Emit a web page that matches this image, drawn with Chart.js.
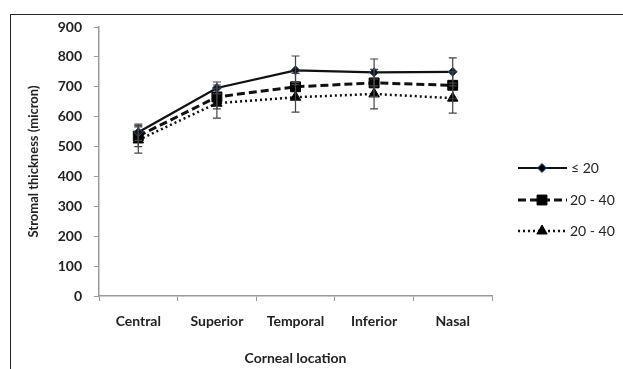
<!DOCTYPE html>
<html>
<head>
<meta charset="utf-8">
<script src="https://cdn.jsdelivr.net/npm/chart.js@4/dist/chart.umd.min.js"></script>
<style>
  body { margin: 0; background: #fff; }
  #wrap { position: relative; width: 623px; height: 369px; }
  #frame { position: absolute; left: 10px; top: 14px; right: 0; bottom: 0;
           border-left: 1.5px solid #222; border-top: 1.5px solid #222; }
  canvas { position: absolute; left: 0; top: 0; }
</style>
</head>
<body>
<div id="wrap">
  <div id="frame"></div>
  <canvas id="chart" width="623" height="369"></canvas>
</div>
<script>
const locations = ["Central", "Superior", "Temporal", "Inferior", "Nasal"];
const seriesNames = ["\u2264 20", "20 - 40", "20 - 40"];
const under20 = [548, 696, 755, 748, 750];
const from20to40 = [535, 666, 700, 713, 705];
const over40 = [522, 645, 665, 676, 662];
const under20Err = [27, 20, 48, 45, 47];
const from20to40Err = [35, 40, 45, 45, 45];
const over40Err = [44, 50, 50, 50, 50];

const fontFamily = "Lato, 'Open Sans', sans-serif";

// draws the error bars from the errors stored on each dataset
const errorBars = {
    id: "errorBars",
    afterDatasetsDraw(chart) {
        const ctx = chart.ctx;
        const y = chart.scales.y;
        ctx.save();
        ctx.strokeStyle = "#444";
        ctx.lineWidth = 1.2;
        chart.data.datasets.forEach((ds, i) => {
            const meta = chart.getDatasetMeta(i);
            meta.data.forEach((pt, j) => {
                const top = y.getPixelForValue(ds.data[j] + ds.err[j]);
                const bot = y.getPixelForValue(ds.data[j] - ds.err[j]);
                ctx.beginPath();
                ctx.moveTo(pt.x, top); ctx.lineTo(pt.x, bot);
                ctx.moveTo(pt.x - 4, top); ctx.lineTo(pt.x + 4, top);
                ctx.moveTo(pt.x - 4, bot); ctx.lineTo(pt.x + 4, bot);
                ctx.stroke();
            });
        });
        ctx.restore();
    }
};

// legend with a line sample and the marker, like the spreadsheet one
const lineLegend = {
    id: "lineLegend",
    afterDraw(chart) {
        const ctx = chart.ctx;
        const rows = [168, 200, 231];
        ctx.save();
        chart.data.datasets.forEach((ds, i) => {
            const yy = rows[i];
            ctx.strokeStyle = ds.borderColor;
            ctx.lineWidth = ds.borderWidth;
            ctx.setLineDash(ds.borderDash || []);
            ctx.beginPath();
            ctx.moveTo(518, yy); ctx.lineTo(567, yy);
            ctx.stroke();
            ctx.setLineDash([]);
            ctx.fillStyle = "#000";
            ctx.strokeStyle = ds.pointBorderColor || "#000";
            ctx.lineWidth = 1;
            Chart.helpers.drawPoint(ctx, {
                pointStyle: ds.pointStyle, radius: ds.pointRadius, borderWidth: 1
            }, 542, yy);
            ctx.fillStyle = "#222";
            ctx.font = "14px " + fontFamily;
            ctx.textBaseline = "middle";
            ctx.fillText(ds.label, i == 0 ? 571 : 570, yy);
        });
        ctx.restore();
    }
};

const ctx = document.getElementById("chart").getContext("2d");
Chart.defaults.font.family = fontFamily;

new Chart(ctx, {
    type: "line",
    data: {
        labels: locations,
        datasets: [{
            label: seriesNames[0],
            data: under20,
            err: under20Err,
            borderColor: "#111",
            backgroundColor: "#111",
            pointBackgroundColor: "#111",
            pointBorderColor: "#2a4c80",
            pointBorderWidth: 1,
            borderWidth: 2.2,
            pointStyle: "rectRot",
            pointRadius: 4.5,
        }, {
            label: seriesNames[1],
            data: from20to40,
            err: from20to40Err,
            borderColor: "#111",
            backgroundColor: "#000",
            pointBackgroundColor: "#000",
            pointBorderColor: "#000",
            pointBorderWidth: 1,
            borderWidth: 3,
            borderDash: [8, 4],
            pointStyle: "rect",
            pointRadius: 7,
        }, {
            label: seriesNames[2],
            data: over40,
            err: over40Err,
            borderColor: "#111",
            backgroundColor: "#000",
            pointBackgroundColor: "#000",
            pointBorderColor: "#000",
            pointBorderWidth: 1,
            borderWidth: 2.5,
            borderDash: [2, 3],
            pointStyle: "triangle",
            pointRadius: 6,
        }]
    },
    options: {
        responsive: false,
        animation: false,
        layout: { padding: { left: 0, right: 131, top: 27, bottom: 0 } },
        plugins: { legend: { display: false }, tooltip: { enabled: false } },
        scales: {
            x: {
                offset: true,
                grid: { offset: true, drawOnChartArea: false, color: "#999", tickLength: 5 },
                border: { color: "#999", width: 1.5 },
                ticks: { color: "#222", padding: 12, font: { size: 14, weight: "bold" } },
                title: { display: true, text: "Corneal location", color: "#222",
                         padding: { top: 0, bottom: 2 }, font: { size: 14, weight: "bold" } },
                afterFit(scale) { scale.height = 73; }
            },
            y: {
                min: 0,
                max: 900,
                ticks: { stepSize: 100, color: "#222", padding: 12, font: { size: 14, weight: "bold" } },
                grid: { drawOnChartArea: false, color: "#999", tickLength: 5 },
                border: { color: "#999", width: 1.5 },
                title: { display: true, text: "Stromal thickness (micron)", color: "#222",
                         padding: { top: 26, bottom: 0 }, font: { size: 13, weight: "bold" } },
                afterFit(scale) { scale.width = 99; }
            }
        }
    },
    plugins: [errorBars, lineLegend]
});
</script>
</body>
</html>
